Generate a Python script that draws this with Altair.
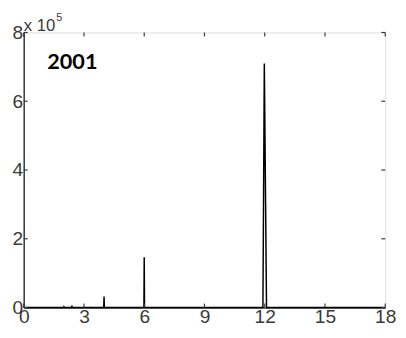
import altair as alt
import pandas as pd

# spectrum-like spike series (y in raw units, axis shows x 10^5)
xs = [0, 1.985, 2.0, 2.015, 2.385, 2.4, 2.415, 3.985, 4.0, 4.015, 5.985, 6.0, 6.015, 11.91, 11.98, 12.09, 18]
ys = [0, 0, 2000, 0, 0, 6000, 0, 0, 32000, 0, 0, 146000, 0, 0, 710000, 0, 0]
x_ticks = [0, 3, 6, 9, 12, 15, 18]
y_ticks = [0, 200000, 400000, 600000, 800000]
panel_label = "2001"

W, H = 368, 280
AX = "#3a3a3a"
FONT = "Liberation Sans"

df = pd.DataFrame({"x": xs, "y": ys})
xt = pd.DataFrame({"t": x_ticks})
yt = pd.DataFrame({"t": y_ticks})

xsc = alt.Scale(domain=[0, 18], nice=False, zero=False)
ysc = alt.Scale(domain=[0, 800000], nice=False)

line = alt.Chart(df).mark_line(color="black", strokeWidth=1.5).encode(
    x=alt.X("x:Q", scale=xsc, axis=alt.Axis(values=x_ticks, title=None, ticks=False, grid=False,
                                             labelFontSize=19.5, labelFont=FONT, labelColor=AX,
                                             labelPadding=0, domainColor=AX, domainWidth=1.5,
                                             labelFlush=False)),
    y=alt.Y("y:Q", scale=ysc, axis=alt.Axis(values=y_ticks, title=None, ticks=False, grid=False,
                                             labelFontSize=19.5, labelFont=FONT, labelColor=AX,
                                             labelPadding=1, domainColor=AX, domainWidth=1.5,
                                             labelExpr="datum.value / 100000", labelFlush=False)),
)

tick_style = dict(color=AX, strokeWidth=1.2)
bt = alt.Chart(xt).mark_rule(**tick_style).encode(x=alt.X("t:Q", scale=xsc), y=alt.value(H), y2=alt.value(H - 4))
tt = alt.Chart(xt).mark_rule(**tick_style).encode(x=alt.X("t:Q", scale=xsc), y=alt.value(0), y2=alt.value(4))
lt = alt.Chart(yt).mark_rule(**tick_style).encode(y=alt.Y("t:Q", scale=ysc), x=alt.value(0), x2=alt.value(4))
rt = alt.Chart(yt).mark_rule(**tick_style).encode(y=alt.Y("t:Q", scale=ysc), x=alt.value(W), x2=alt.value(W - 4))

lab = alt.Chart(pd.DataFrame({"s": [panel_label]})).mark_text(
    font="Lato", fontWeight="bold", fontSize=22, align="left", baseline="alphabetic", color="black"
).encode(text="s:N", x=alt.value(24), y=alt.value(37))

exp1 = alt.Chart(pd.DataFrame({"s": ["x 10"]})).mark_text(
    font=FONT, fontSize=17, align="left", baseline="alphabetic", color=AX
).encode(text="s:N", x=alt.value(0), y=alt.value(-2))
exp2 = alt.Chart(pd.DataFrame({"s": ["5"]})).mark_text(
    font=FONT, fontSize=11, align="left", baseline="alphabetic", color=AX
).encode(text="s:N", x=alt.value(33), y=alt.value(-12))

chart = alt.layer(line, bt, tt, lt, rt, lab, exp1, exp2).properties(
    width=W, height=H,
    autosize=alt.AutoSizeParams(type="none"),
    padding={"left": 16, "top": 22, "right": 13, "bottom": 24},
).configure_view(stroke=AX, strokeWidth=1.5).configure(background="white")

chart.save("out.html", embed_options={"renderer": "svg", "actions": False})
